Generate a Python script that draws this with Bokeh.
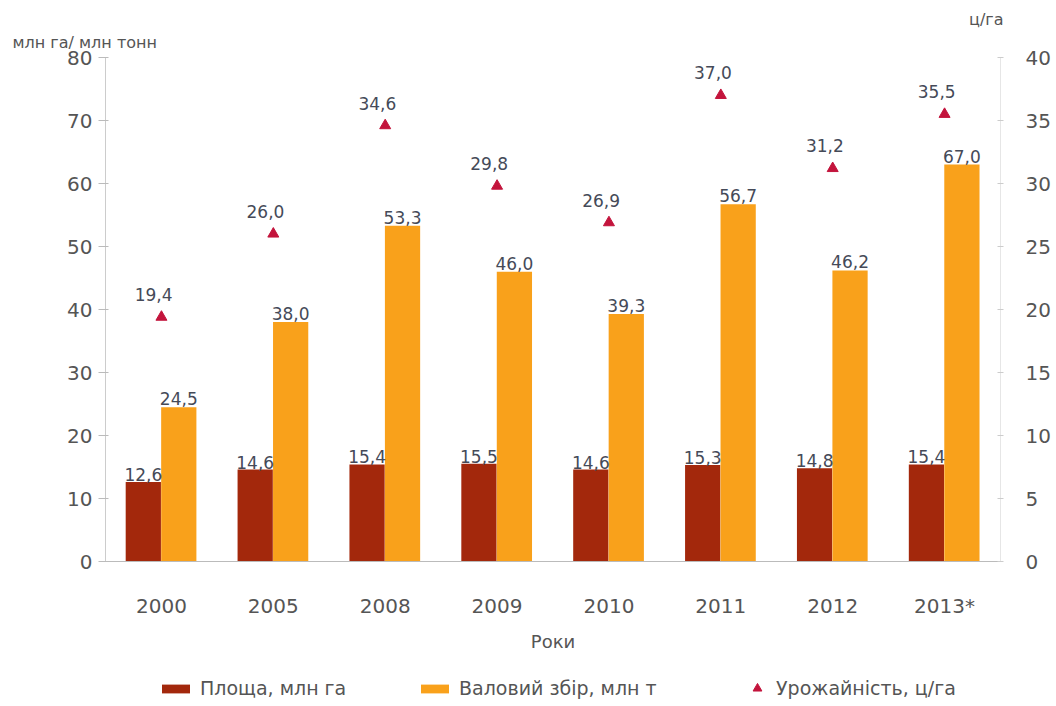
from bokeh.plotting import figure
from bokeh.models import (FactorRange, Range1d, LinearAxis, ColumnDataSource,
                          Legend, LegendItem, FixedTicker, Title)
from bokeh.layouts import column
from bokeh.transform import dodge
from bokeh.core.properties import value
from bokeh.embed import file_html
from bokeh.resources import INLINE

years = ["2000", "2005", "2008", "2009", "2010", "2011", "2012", "2013*"]
area = [12.6, 14.6, 15.4, 15.5, 14.6, 15.3, 14.8, 15.4]
gross_bar = [24.5, 38.0, 53.3, 46.0, 39.3, 56.7, 46.2, 63.0]
gross_labels = ["24,5", "38,0", "53,3", "46,0", "39,3", "56,7", "46,2", "67,0"]
yield_vals = [19.4, 26.0, 34.6, 29.8, 26.9, 37.0, 31.2, 35.5]
left_ticks = [0, 10, 20, 30, 40, 50, 60, 70, 80]
right_ticks = [0, 5, 10, 15, 20, 25, 30, 35, 40]
series_names = ["Площа, млн га", "Валовий збір, млн т", "Урожайність, ц/га"]

def fmt(v):
    return ("%.1f" % v).replace(".", ",")

src = ColumnDataSource(dict(
    year=years, area=area, gross=gross_bar,
    area_lbl=[fmt(v) for v in area], gross_lbl=gross_labels,
    yld=yield_vals, yld_lbl=[fmt(v) for v in yield_vals],
))

FONT = "DejaVu Sans"
TXT = "#555555"
LBL = "#454a58"
DARK = "#A3280C"
ORANGE = "#F9A11B"
RED = "#C3143C"

p = figure(x_range=FactorRange(factors=years, range_padding=0),
           y_range=Range1d(0, 80), width=1056, height=660,
           output_backend="svg", toolbar_location=None,
           min_border_left=105, min_border_right=56,
           min_border_top=57, min_border_bottom=99)
p.extra_y_ranges = {"yld": Range1d(0, 40)}
p.outline_line_color = None
p.xgrid.grid_line_color = None
p.ygrid.grid_line_color = None

r_area = p.vbar(x=dodge("year", -0.162, range=p.x_range), top="area", width=0.315,
                source=src, fill_color=DARK, line_color=None)
r_gross = p.vbar(x=dodge("year", 0.155, range=p.x_range), top="gross", width=0.315,
                 source=src, fill_color=ORANGE, line_color=None)
r_yld = p.scatter(x="year", y="yld", y_range_name="yld", marker="triangle",
                  size=11, fill_color=RED, line_color=RED, source=src)

p.text(x=dodge("year", -0.162, range=p.x_range), y="area", text="area_lbl",
       source=src, text_align="center", text_baseline="bottom", y_offset=-1,
       text_font=value(FONT), text_font_size="17px", text_color=LBL)
p.text(x=dodge("year", 0.155, range=p.x_range), y="gross", text="gross_lbl",
       source=src, text_align="center", text_baseline="bottom", y_offset=-2,
       text_font=value(FONT), text_font_size="17px", text_color=LBL)
p.text(x=dodge("year", -0.07, range=p.x_range), y="yld", text="yld_lbl", y_range_name="yld",
       source=src, text_align="center", text_baseline="bottom", y_offset=-16,
       text_font=value(FONT), text_font_size="17px", text_color=LBL)

# left axis
ya = p.yaxis[0]
ya.ticker = FixedTicker(ticks=left_ticks)
ya.minor_tick_line_color = None
ya.major_tick_in = 3
ya.major_tick_out = 7
ya.major_tick_line_color = "#bbbbbb"
ya.axis_line_color = "#cccccc"
ya.major_label_standoff = 6
ya.major_label_text_font = FONT
ya.major_label_text_font_size = "20px"
ya.major_label_text_color = TXT

# right axis
ra = LinearAxis(y_range_name="yld", ticker=FixedTicker(ticks=right_ticks))
ra.minor_tick_line_color = None
ra.major_tick_in = 3
ra.major_tick_out = 3
ra.major_tick_line_color = "#cccccc"
ra.axis_line_color = "#e6e6e6"
ra.major_label_standoff = 22
ra.major_label_text_font = FONT
ra.major_label_text_font_size = "20px"
ra.major_label_text_color = TXT
p.add_layout(ra, "right")

# x axis
xa = p.xaxis[0]
xa.major_tick_line_color = None
xa.axis_line_color = "#bbbbbb"
xa.major_label_standoff = 26
xa.major_label_text_font = FONT
xa.major_label_text_font_size = "20px"
xa.major_label_text_color = TXT
xa.axis_label = "Роки"
xa.axis_label_standoff = 10
xa.axis_label_text_font = FONT
xa.axis_label_text_font_size = "18px"
xa.axis_label_text_font_style = "normal"
xa.axis_label_text_color = TXT

# axis titles
p.add_layout(Title(text="млн га/ млн тонн", align="left", offset=-93, standoff=8,
                   text_font=FONT, text_font_size="16px", text_font_style="normal",
                   text_color=TXT, vertical_align="top"), "above")
p.add_layout(Title(text="ц/га", align="right", offset=-3, standoff=0,
                   text_font=FONT, text_font_size="16px", text_font_style="normal",
                   text_color=TXT, vertical_align="bottom"), "above")

# legend strip (its frame is aligned with the chart frame by the column layout)
lf = figure(width=1056, height=46, x_range=Range1d(0, 1), y_range=Range1d(0, 1),
            output_backend="svg", toolbar_location=None,
            x_axis_type=None, y_axis_type=None,
            min_border_left=0, min_border_right=0, min_border_top=0, min_border_bottom=0)
lf.outline_line_color = None
lf.xgrid.grid_line_color = None
lf.ygrid.grid_line_color = None
# legend proxies: a single point lying outside the strip's visible range
proxy = ColumnDataSource(dict(x=[-5], y=[-5], top=[-5]))
l_area = lf.vbar(x="x", top="top", width=0.1, source=proxy, fill_color=DARK, line_color=None)
l_gross = lf.vbar(x="x", top="top", width=0.1, source=proxy, fill_color=ORANGE, line_color=None)
l_yld = lf.scatter(x="x", y="y", marker="triangle", size=11, fill_color=RED,
                   line_color=RED, source=proxy)

def make_legend(name, rend, loc, gw, gh):
    lg = Legend(items=[LegendItem(label=name, renderers=[rend])], location=loc,
                orientation="horizontal", border_line_color=None, background_fill_alpha=0,
                label_text_font=FONT, label_text_font_size="19px", label_text_color=TXT,
                glyph_width=gw, glyph_height=gh, label_standoff=7,
                padding=0, margin=0, label_height=22)
    lf.add_layout(lg, "center")

make_legend(series_names[0], l_area, (53, 7), 35, 11)
make_legend(series_names[1], l_gross, (312, 7), 35, 11)
make_legend(series_names[2], l_yld, (640, 7), 24, 22)

layout = column(p, lf, spacing=0)
open("out.html", "w").write(file_html(layout, INLINE))
